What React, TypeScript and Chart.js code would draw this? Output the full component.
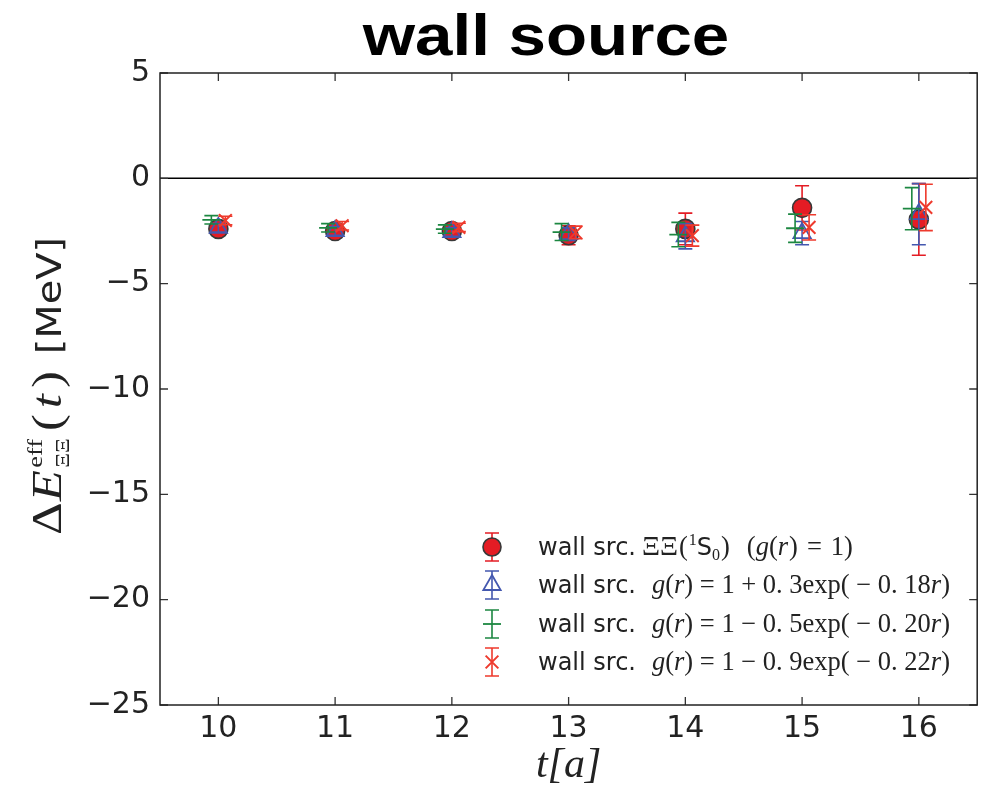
import React, { useEffect, useRef } from 'react';
import { Chart, registerables } from 'chart.js';

Chart.register(...registerables);

// ---------------- data ----------------
const T_VALUES = [10, 11, 12, 13, 14, 15, 16];
const X_TICKS = [10, 11, 12, 13, 14, 15, 16];
const Y_TICKS = [-25, -20, -15, -10, -5, 0, 5];

const WALL_VAL = [-2.4, -2.5, -2.5, -2.7, -2.4, -1.4, -1.95];
const WALL_ERR = [0.2, 0.2, 0.2, 0.45, 0.75, 1.05, 1.7];
const P03_VAL = [-2.35, -2.5, -2.55, -2.65, -2.75, -2.6, -1.7];
const P03_ERR = [0.2, 0.2, 0.2, 0.3, 0.6, 0.55, 1.45];
const M05_VAL = [-1.97, -2.35, -2.41, -2.55, -2.67, -2.37, -1.44];
const M05_ERR = [0.2, 0.2, 0.2, 0.4, 0.58, 0.67, 1.0];
const M09_VAL = [-2.0, -2.25, -2.33, -2.57, -2.72, -2.33, -1.38];
const M09_ERR = [0.2, 0.2, 0.2, 0.3, 0.5, 0.6, 1.1];

const TITLE = 'wall source';
const X_TITLE = 't[a]';

// ---------------- styles ----------------
const RED = 'rgb(228,28,36)';
const EDGE = '#383838';
const BLUE = 'rgb(68,88,175)';
const GREEN = 'rgb(28,135,65)';
const REDX = 'rgb(238,58,45)';
const AXIS = '#222222';
const SANS = '"DejaVu Sans", sans-serif';
const SERIF = '"Liberation Serif", "DejaVu Serif", serif';
const CAP = 7;

const SERIES = [
  { vals: WALL_VAL, errs: WALL_ERR, shift: 0, color: RED },
  { vals: P03_VAL, errs: P03_ERR, shift: 0, color: BLUE },
  { vals: M05_VAL, errs: M05_ERR, shift: -0.06, color: GREEN },
  { vals: M09_VAL, errs: M09_ERR, shift: 0.06, color: REDX },
];

type Seg = { t: string; f: string; dy?: number; stack?: boolean; gap?: number };

function segsWidth(ctx: CanvasRenderingContext2D, segs: Seg[]) {
  let w = 0;
  let pending = 0;
  for (const s of segs) {
    ctx.font = s.f;
    const sw = ctx.measureText(s.t).width;
    if (s.stack) {
      pending = sw;
      continue;
    }
    w += Math.max(sw, pending) + (s.gap || 0);
    pending = 0;
  }
  return w;
}

function drawSegs(ctx: CanvasRenderingContext2D, segs: Seg[], x: number, y: number) {
  let cx = x;
  let pending = 0;
  ctx.textBaseline = 'alphabetic';
  ctx.textAlign = 'left';
  for (const s of segs) {
    ctx.font = s.f;
    const sw = ctx.measureText(s.t).width;
    ctx.fillText(s.t, cx, y + (s.dy || 0));
    if (s.stack) {
      pending = sw;
      continue;
    }
    cx += Math.max(sw, pending) + (s.gap || 0);
    pending = 0;
  }
}

const LF = 26.5; // legend math font size
const LS = 24; // legend sans font size

const LEGEND_ROWS: Seg[][] = [
  [
    { t: 'wall src.', f: `${LS}px ${SANS}`, gap: 6 },
    { t: 'ΞΞ', f: `28px ${SERIF}`, gap: 1 },
    { t: '(', f: `${LF}px ${SERIF}`, gap: 1 },
    { t: '1', f: `16px ${SERIF}`, dy: -10 },
    { t: 'S', f: `${LS}px ${SANS}` },
    { t: '0', f: `16px ${SERIF}`, dy: 5, gap: 1 },
    { t: ')', f: `${LF}px ${SERIF}`, gap: 17 },
    { t: '(', f: `${LF}px ${SERIF}` },
    { t: 'g', f: `italic ${LF}px ${SERIF}` },
    { t: '(', f: `${LF}px ${SERIF}` },
    { t: 'r', f: `italic ${LF}px ${SERIF}`, gap: 1 },
    { t: ')', f: `${LF}px ${SERIF}`, gap: 9 },
    { t: '=', f: `${LF}px ${SERIF}`, gap: 9 },
    { t: '1)', f: `${LF}px ${SERIF}` },
  ],
  [
    { t: 'wall src.', f: `${LS}px ${SANS}`, gap: 16 },
    { t: 'g', f: `italic ${LF}px ${SERIF}` },
    { t: '(', f: `${LF}px ${SERIF}` },
    { t: 'r', f: `italic ${LF}px ${SERIF}` },
    { t: ') = 1 + 0. 3exp( − 0. 18', f: `${LF}px ${SERIF}` },
    { t: 'r', f: `italic ${LF}px ${SERIF}` },
    { t: ')', f: `${LF}px ${SERIF}` },
  ],
  [
    { t: 'wall src.', f: `${LS}px ${SANS}`, gap: 16 },
    { t: 'g', f: `italic ${LF}px ${SERIF}` },
    { t: '(', f: `${LF}px ${SERIF}` },
    { t: 'r', f: `italic ${LF}px ${SERIF}` },
    { t: ') = 1 − 0. 5exp( − 0. 20', f: `${LF}px ${SERIF}` },
    { t: 'r', f: `italic ${LF}px ${SERIF}` },
    { t: ')', f: `${LF}px ${SERIF}` },
  ],
  [
    { t: 'wall src.', f: `${LS}px ${SANS}`, gap: 16 },
    { t: 'g', f: `italic ${LF}px ${SERIF}` },
    { t: '(', f: `${LF}px ${SERIF}` },
    { t: 'r', f: `italic ${LF}px ${SERIF}` },
    { t: ') = 1 − 0. 9exp( − 0. 22', f: `${LF}px ${SERIF}` },
    { t: 'r', f: `italic ${LF}px ${SERIF}` },
    { t: ')', f: `${LF}px ${SERIF}` },
  ],
];

const Y_LABEL: Seg[] = [
  { t: 'Δ', f: `42px ${SERIF}`, gap: 1 },
  { t: 'E', f: `italic 42px ${SERIF}`, gap: 2 },
  { t: 'eff', f: `22px ${SERIF}`, dy: -19, stack: true },
  { t: 'ΞΞ', f: `19px ${SERIF}`, dy: 8, gap: 6 },
  { t: '(', f: `42px ${SERIF}`, gap: 5 },
  { t: 't', f: `italic 42px ${SERIF}`, gap: 5 },
  { t: ')', f: `42px ${SERIF}`, gap: 14 },
  { t: '[MeV]', f: `33px ${SANS}` },
];
const Y_LABEL_START = 535; // bottom end (text start) in px
const Y_LABEL_END = 237; // top end

function errBar(ctx: CanvasRenderingContext2D, x: number, y1: number, y2: number) {
  ctx.beginPath();
  ctx.moveTo(x, y1);
  ctx.lineTo(x, y2);
  ctx.moveTo(x - CAP, y1);
  ctx.lineTo(x + CAP, y1);
  ctx.moveTo(x - CAP, y2);
  ctx.lineTo(x + CAP, y2);
  ctx.stroke();
}

const errorBarPlugin = {
  id: 'errorBars',
  beforeDatasetDraw(chart: any, args: any) {
    const s = SERIES[args.index];
    if (!s) return;
    const ys = chart.scales.y;
    const ctx = chart.ctx as CanvasRenderingContext2D;
    ctx.save();
    ctx.strokeStyle = s.color;
    ctx.lineWidth = 1.6;
    args.meta.data.forEach((el: any, i: number) => {
      const v = s.vals[i];
      const e = s.errs[i];
      errBar(ctx, el.x, ys.getPixelForValue(v + e), ys.getPixelForValue(v - e));
    });
    ctx.restore();
  },
};

const framePlugin = {
  id: 'frame',
  beforeDatasetsDraw(chart: any) {
    const { ctx, chartArea: a, scales } = chart;
    ctx.save();
    const y0 = scales.y.getPixelForValue(0);
    ctx.strokeStyle = '#000';
    ctx.lineWidth = 1.5;
    ctx.beginPath();
    ctx.moveTo(a.left, y0);
    ctx.lineTo(a.right, y0);
    ctx.stroke();
    ctx.strokeStyle = '#333';
    ctx.lineWidth = 1.3;
    ctx.beginPath();
    for (const t of X_TICKS) {
      const x = scales.x.getPixelForValue(t);
      ctx.moveTo(x, a.bottom);
      ctx.lineTo(x, a.bottom - 8);
      ctx.moveTo(x, a.top);
      ctx.lineTo(x, a.top + 8);
    }
    for (const t of Y_TICKS) {
      const y = scales.y.getPixelForValue(t);
      ctx.moveTo(a.left, y);
      ctx.lineTo(a.left + 8, y);
      ctx.moveTo(a.right, y);
      ctx.lineTo(a.right - 8, y);
    }
    ctx.stroke();
    ctx.strokeStyle = AXIS;
    ctx.lineWidth = 1.5;
    ctx.strokeRect(a.left, a.top, a.right - a.left, a.bottom - a.top);
    ctx.restore();
  },
  afterDraw(chart: any) {
    const { ctx } = chart;
    ctx.save();
    ctx.fillStyle = '#000';
    ctx.font = `bold 58px "Liberation Sans", Arial, sans-serif`;
    ctx.textAlign = 'center';
    ctx.textBaseline = 'alphabetic';
    ctx.translate(546, 55);
    ctx.scale(1.16, 1);
    ctx.fillText(TITLE, 0, 0);
    ctx.restore();

    // y label (rotated), stretched to its measured span
    ctx.save();
    ctx.fillStyle = '#222';
    const w = segsWidth(ctx, Y_LABEL);
    const k = (Y_LABEL_START - Y_LABEL_END) / w;
    ctx.translate(61, Y_LABEL_START);
    ctx.rotate(-Math.PI / 2);
    ctx.scale(k, 1);
    drawSegs(ctx, Y_LABEL, 0, 0);
    ctx.restore();

    // legend
    ctx.save();
    const mx = 492;
    const rows = [547, 585, 624, 662];
    rows.forEach((cy, i) => {
      ctx.lineWidth = 1.6;
      if (i === 0) {
        ctx.strokeStyle = RED;
        errBar(ctx, mx, cy - 14, cy + 14);
        ctx.beginPath();
        ctx.arc(mx, cy, 9, 0, Math.PI * 2);
        ctx.fillStyle = RED;
        ctx.fill();
        ctx.strokeStyle = EDGE;
        ctx.lineWidth = 1.6;
        ctx.stroke();
      } else if (i === 1) {
        ctx.strokeStyle = BLUE;
        errBar(ctx, mx, cy - 14, cy + 14);
        const r = 10;
        ctx.beginPath();
        ctx.moveTo(mx, cy - r);
        ctx.lineTo(mx + r * 0.866, cy + r / 2);
        ctx.lineTo(mx - r * 0.866, cy + r / 2);
        ctx.closePath();
        ctx.lineWidth = 1.8;
        ctx.stroke();
      } else if (i === 2) {
        ctx.strokeStyle = GREEN;
        errBar(ctx, mx, cy - 14, cy + 14);
        ctx.beginPath();
        ctx.moveTo(mx - 9, cy);
        ctx.lineTo(mx + 9, cy);
        ctx.lineWidth = 1.8;
        ctx.stroke();
      } else {
        ctx.strokeStyle = REDX;
        errBar(ctx, mx, cy - 14, cy + 14);
        const r = 9 * 0.7071;
        ctx.beginPath();
        ctx.moveTo(mx - r, cy - r);
        ctx.lineTo(mx + r, cy + r);
        ctx.moveTo(mx - r, cy + r);
        ctx.lineTo(mx + r, cy - r);
        ctx.lineWidth = 2;
        ctx.stroke();
      }
      ctx.fillStyle = '#222';
      drawSegs(ctx, LEGEND_ROWS[i], 538, cy + 8);
    });
    ctx.restore();
  },
};

// Chart.js keeps a margin of about one marker radius around the plot;
// the canvas is made a little wider than the window so the right frame lands at 977px.
const CANVAS_W = 989;
const CANVAS_H = 797;

export default function App() {
  const ref = useRef<HTMLCanvasElement | null>(null);

  useEffect(() => {
    if (!ref.current) return;
    const mk = (s: (typeof SERIES)[number]) => T_VALUES.map((t, i) => ({ x: t + s.shift, y: s.vals[i] }));
    const chart = new Chart(ref.current, {
      type: 'scatter',
      data: {
        datasets: [
          {
            label: 'wall src. ΞΞ(1S0) (g(r)=1)',
            data: mk(SERIES[0]),
            pointStyle: 'circle',
            pointRadius: 9.5,
            backgroundColor: RED,
            borderColor: EDGE,
            borderWidth: 1.6,
            order: 4,
          },
          {
            label: 'wall src. g(r)=1+0.3exp(-0.18r)',
            data: mk(SERIES[1]),
            pointStyle: 'triangle',
            pointRadius: 10,
            backgroundColor: 'rgba(0,0,0,0)',
            borderColor: BLUE,
            borderWidth: 1.8,
            order: 3,
          },
          {
            label: 'wall src. g(r)=1-0.5exp(-0.20r)',
            data: mk(SERIES[2]),
            pointStyle: 'line',
            pointRadius: 9,
            backgroundColor: GREEN,
            borderColor: GREEN,
            borderWidth: 1.8,
            order: 2,
          },
          {
            label: 'wall src. g(r)=1-0.9exp(-0.22r)',
            data: mk(SERIES[3]),
            pointStyle: 'crossRot',
            pointRadius: 9,
            backgroundColor: REDX,
            borderColor: REDX,
            borderWidth: 2,
            order: 1,
          },
        ],
      },
      options: {
        responsive: false,
        animation: false,
        events: [],
        layout: { padding: { top: 73, right: 0, left: 0, bottom: 0 } },
        plugins: {
          legend: { display: false },
          tooltip: { enabled: false },
          title: { display: false },
        },
        scales: {
          x: {
            type: 'linear',
            min: 9.5,
            max: 16.5,
            afterBuildTicks: (scale: any) => {
              scale.ticks = X_TICKS.map((v) => ({ value: v }));
            },
            afterFit: (scale: any) => {
              scale.height = 92;
              scale.paddingLeft = 0;
              scale.paddingRight = 0;
            },
            grid: { display: false, drawTicks: false },
            border: { display: false },
            ticks: {
              padding: 6,
              color: AXIS,
              font: { family: SANS, size: 30 },
              callback: (v: any) => String(v),
            },
            title: {
              display: true,
              text: X_TITLE,
              color: AXIS,
              font: { family: SERIF, size: 42, style: 'italic' },
              padding: { top: 0, bottom: 6 },
            },
          },
          y: {
            type: 'linear',
            min: -25,
            max: 5,
            afterBuildTicks: (scale: any) => {
              scale.ticks = Y_TICKS.map((v) => ({ value: v }));
            },
            afterFit: (scale: any) => {
              scale.width = 160;
              scale.paddingTop = 0;
              scale.paddingBottom = 0;
            },
            grid: { display: false, drawTicks: false },
            border: { display: false },
            ticks: {
              padding: 10,
              color: AXIS,
              font: { family: SANS, size: 30 },
              callback: (v: any) => (v < 0 ? '−' + Math.abs(v) : String(v)),
            },
          },
        },
      },
      plugins: [errorBarPlugin, framePlugin],
    } as any);
    return () => chart.destroy();
  }, []);

  return (
    <div
      style={{
        position: 'absolute',
        left: 0,
        top: 0,
        width: 982,
        height: 797,
        overflow: 'hidden',
        background: '#fff',
      }}
    >
      <canvas ref={ref} width={CANVAS_W} height={CANVAS_H} style={{ display: 'block' }} />
    </div>
  );
}
